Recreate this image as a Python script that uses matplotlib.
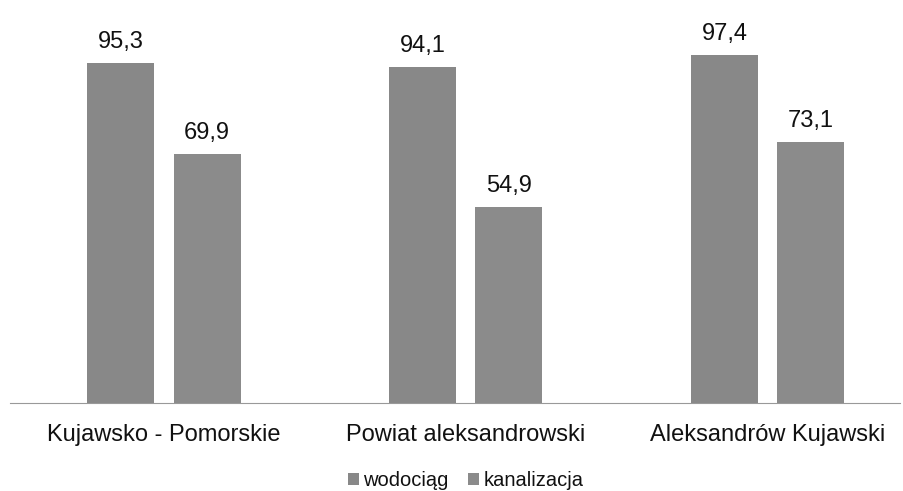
import numpy as np
import matplotlib.pyplot as plt

plt.rcParams['font.family'] = ['Liberation Sans', 'DejaVu Sans']

categories = ['Kujawsko - Pomorskie', 'Powiat aleksandrowski', 'Aleksandrów Kujawski']
wodociag = [95.3, 94.1, 97.4]
kanalizacja = [69.9, 54.9, 73.1]
series_names = ['wodociąg', 'kanalizacja']

x = np.arange(len(categories))
w = 0.222

fig = plt.figure(figsize=(9.04, 4.91), dpi=100)
ax = fig.add_axes([0.011, 0.179, 0.985, 0.80])

b1 = ax.bar(x - 0.143, wodociag, w, color='#888888', label=series_names[0])
b2 = ax.bar(x + 0.143, kanalizacja, w, color='#8b8b8b', label=series_names[1])

# value labels with decimal comma
for bars, vals in [(b1, wodociag), (b2, kanalizacja)]:
    for r, v in zip(bars, vals):
        ax.text(r.get_x() + r.get_width() / 2, v + 2.8, f'{v:.1f}'.replace('.', ','),
                ha='center', va='bottom', fontsize=17, color='#111111')

ax.set_xlim(-0.51, 2.44)
ax.set_ylim(0, 110)
ax.set_xticks(x)
ax.set_xticklabels(categories, fontsize=17, color='#111111')
ax.tick_params(axis='x', length=0, pad=15)
ax.set_yticks([])
for s in ['top', 'left', 'right']:
    ax.spines[s].set_visible(False)
ax.spines['bottom'].set_color('#999999')
ax.spines['bottom'].set_linewidth(0.8)

fig.legend(loc='lower center', bbox_to_anchor=(0.515, -0.035), ncol=2, frameon=False,
           fontsize=14.5, handlelength=0.55, handleheight=0.55, handletextpad=0.2,
           columnspacing=1.0, labelcolor='#111111')

fig.savefig('out.png', dpi=100)
